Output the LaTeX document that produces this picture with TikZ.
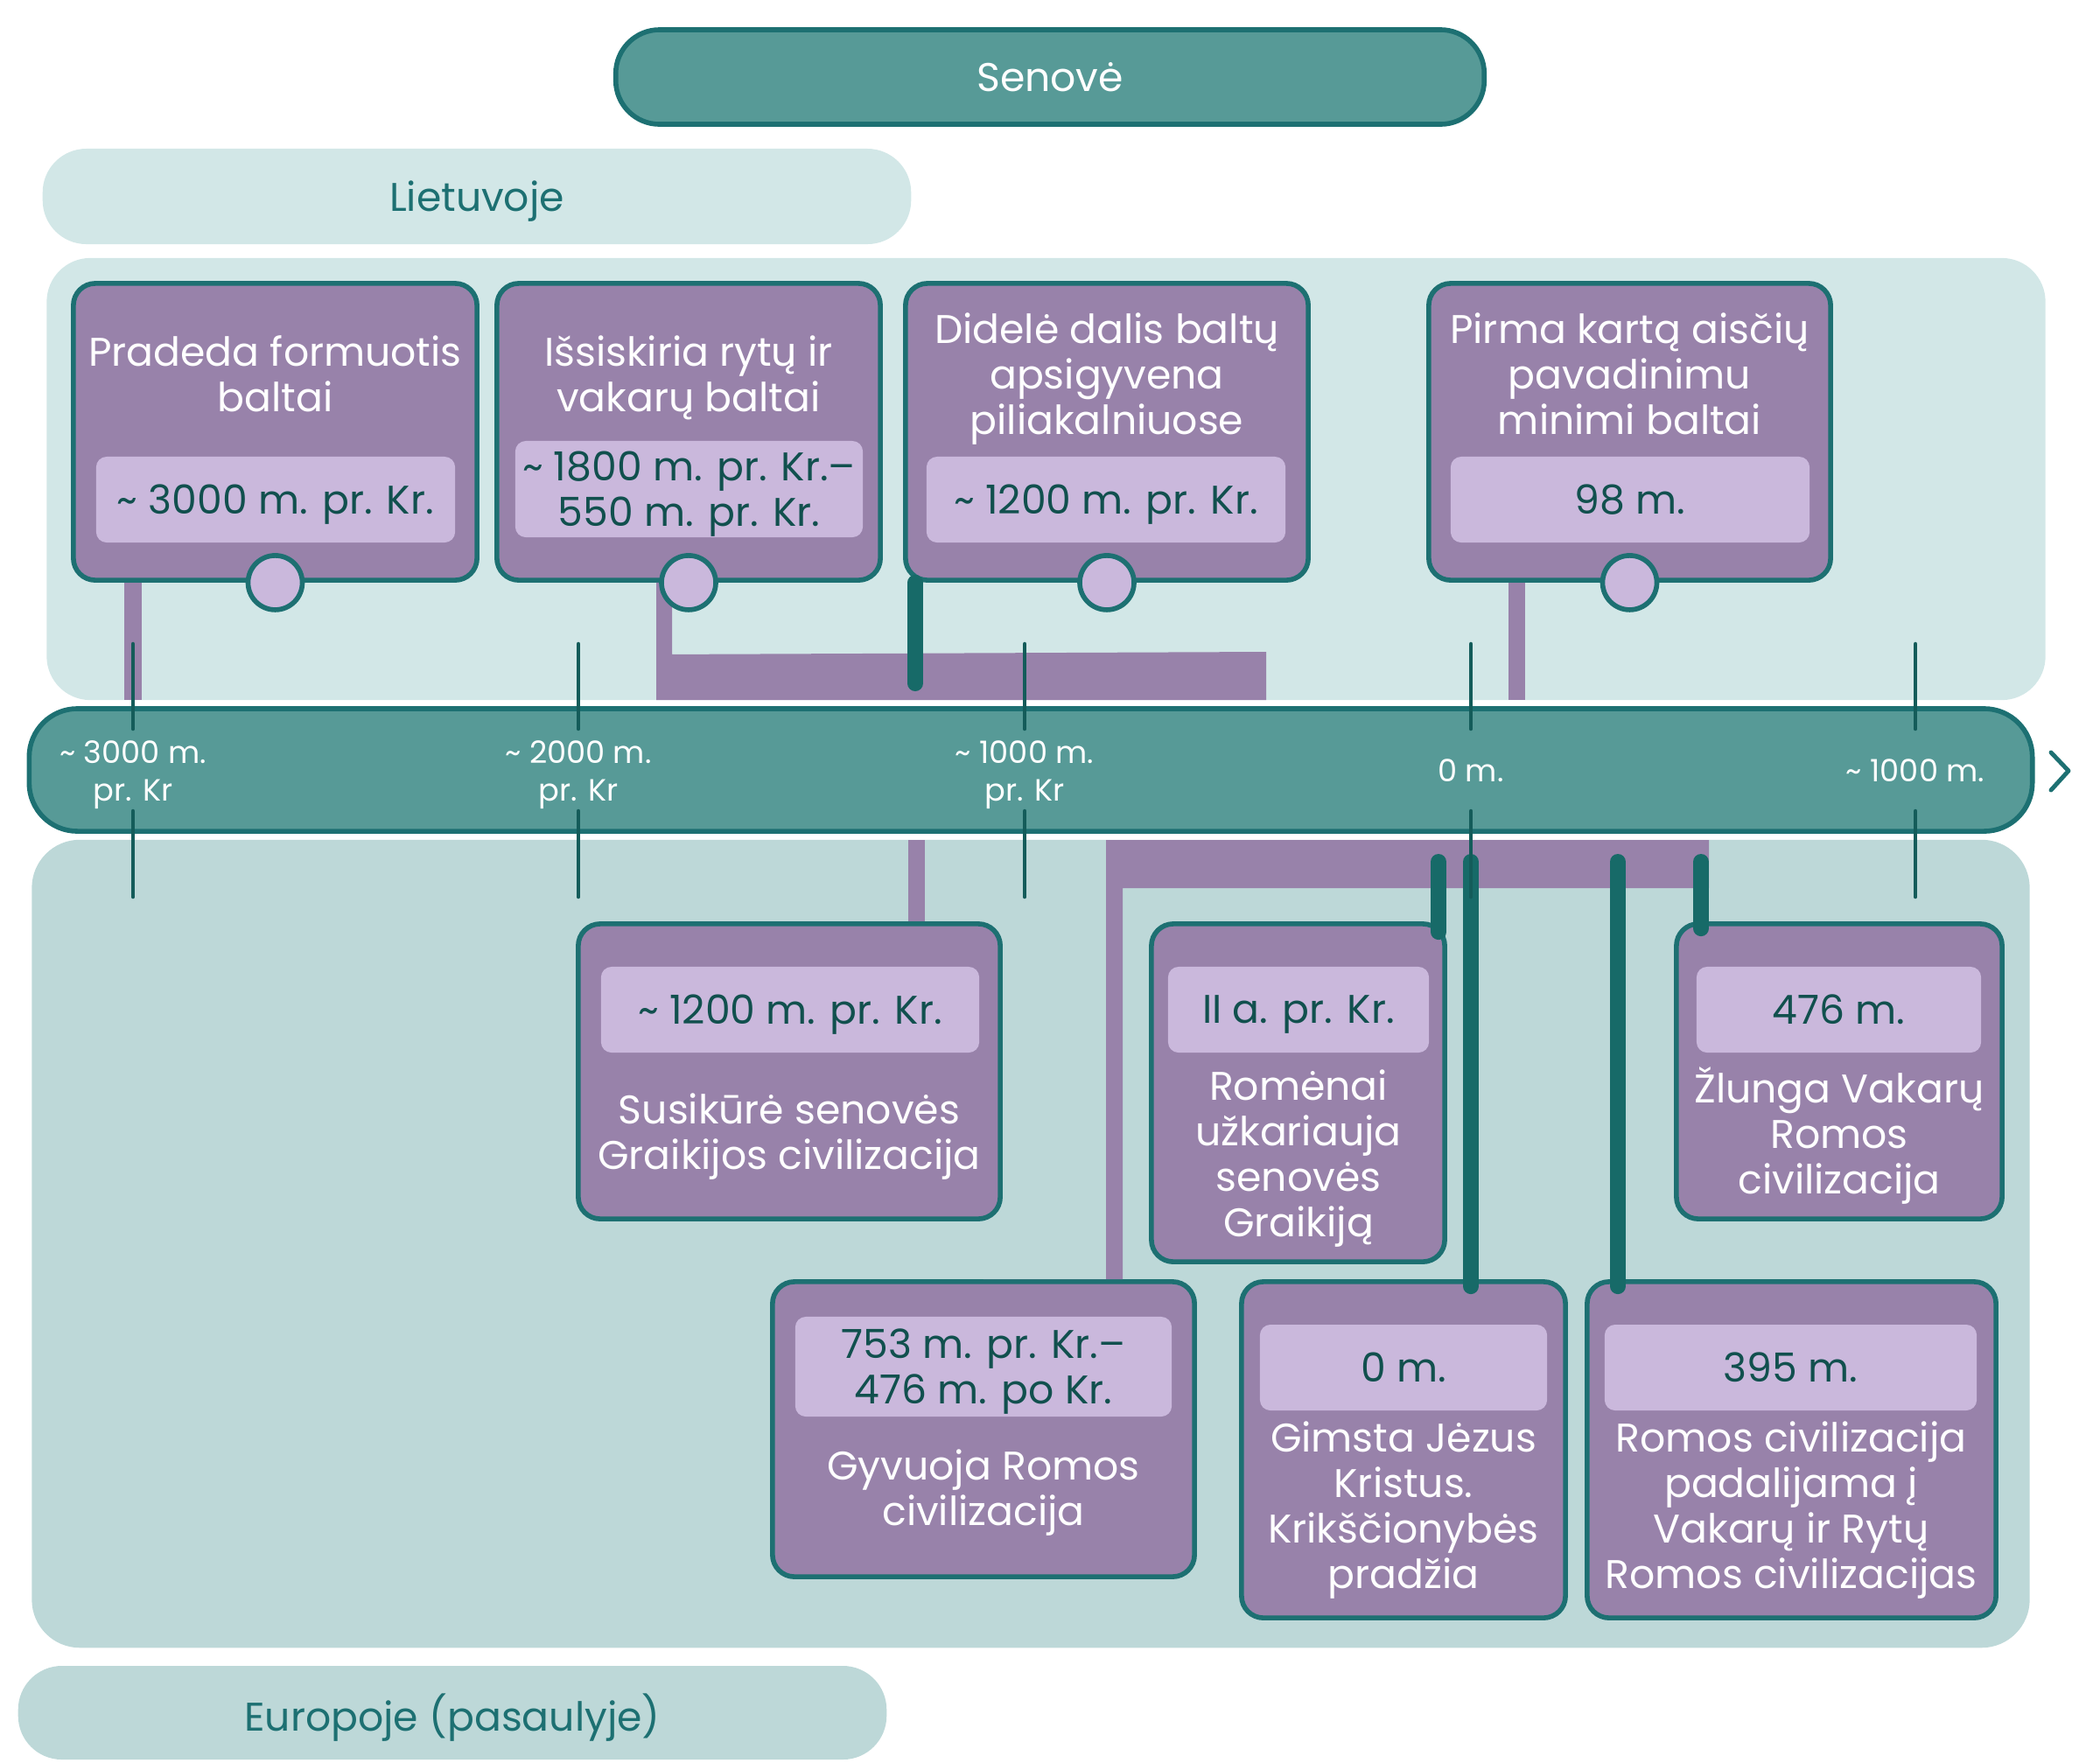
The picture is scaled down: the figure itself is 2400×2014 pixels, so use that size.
\documentclass[tikz,border=0pt]{standalone}
\usepackage{fontspec}
\setmainfont{Poppins}
\usepackage{xcolor}
\usepackage{tikz}
\usetikzlibrary{calc}

\definecolor{tealfill}{HTML}{579A97}
\definecolor{tealedge}{HTML}{1D7072}
\definecolor{tealdark}{HTML}{176A68}
\definecolor{ticktone}{HTML}{145C5A}
\definecolor{lithbg}{HTML}{D2E7E7}
\definecolor{eurobg}{HTML}{BDD8D8}
\definecolor{plum}{HTML}{9882AA}
\definecolor{lilac}{HTML}{CAB8DC}
\definecolor{dateink}{HTML}{11504E}

\begin{document}
\begin{tikzpicture}[x=0.01cm, y=-0.01cm, line width=1.6pt,
    band/.style={fill=#1, rounded corners=0.5cm, inner sep=0pt, text=tealedge, text depth=0pt,
                 font=\fontsize{13}{15}\selectfont},
    region/.style={fill=#1, rounded corners=0.5cm, inner sep=0pt},
    evbox/.style={draw=tealedge, fill=plum, rounded corners=0.25cm, inner sep=0pt},
    datebox/.style={fill=lilac, rounded corners=0.12cm, inner sep=0pt, text=dateink, text depth=0pt,
                    align=center, font=\fontsize{13}{14.8}\selectfont},
    ttl/.style={text=white, align=center, inner sep=0pt, text depth=0pt, font=\fontsize{13}{14.8}\selectfont},
    knob/.style={circle, draw=tealedge, fill=lilac, minimum size=0.62cm, inner sep=0pt},
    plink/.style={draw=plum, line width=0.19cm},
    tlink/.style={draw=tealdark, line width=0.18cm, line cap=round},
    tick/.style={draw=ticktone, line width=1.3pt, line cap=round},
    ticklbl/.style={text=white, align=center, inner sep=0pt, text depth=0pt, font=\fontsize{10}{12.2}\selectfont}]
    \useasboundingbox (0,0) rectangle (2400,2014);

    % draw header and row labels
    \node[band=tealfill, draw=tealedge, text=white, minimum width=9.92cm, minimum height=1.08cm] (senove) at (1200,88) {Senovė};
    \node[band=lithbg, minimum width=9.92cm, minimum height=1.09cm] (lietuva) at (545,224.5) {Lietuvoje};
    \node[band=eurobg, minimum width=9.92cm, minimum height=1.07cm] (europa) at (517,1957.5) {Europoje (pasaulyje)};

    % draw background regions
    \node[region=lithbg, minimum width=22.83cm, minimum height=5.05cm] (lith) at (1195.5,547.5) {};
    \node[region=eurobg, rounded corners=0.55cm, minimum width=22.82cm, minimum height=9.23cm] (euro) at (1178,1421.5) {};

    % draw time axis
    \node[draw=tealedge, fill=tealfill, rounded corners=0.55cm, minimum width=22.88cm, minimum height=1.40cm, inner sep=0pt] (axis) at (1178,880) {};
    \draw[tealedge, line width=1.4pt, line cap=round, line join=round] (2344,860) -- (2364,881) -- (2344,903);

    % draw event boxes in Lithuania
    \node[evbox, minimum width=4.61cm, minimum height=3.39cm] (lt1) at (314.5,493.5) {};
    \node[evbox, minimum width=4.38cm, minimum height=3.39cm] (lt2) at (787,493.5) {};
    \node[evbox, minimum width=4.60cm, minimum height=3.39cm] (lt3) at (1265,493.5) {};
    \node[evbox, minimum width=4.59cm, minimum height=3.39cm] (lt4) at (1862.5,493.5) {};

    % draw event boxes in Europe
    \node[evbox, minimum width=4.82cm, minimum height=3.37cm] (eu1) at (902,1224.5) {};
    \node[evbox, minimum width=4.82cm, minimum height=3.37cm] (eu2) at (1124,1633.5) {};
    \node[evbox, minimum width=3.35cm, minimum height=3.86cm] (eu3) at (1483.5,1249) {};
    \node[evbox, minimum width=3.70cm, minimum height=3.84cm] (eu4) at (1604,1657) {};
    \node[evbox, minimum width=3.72cm, minimum height=3.37cm] (eu5) at (2102,1224.5) {};
    \node[evbox, minimum width=4.67cm, minimum height=3.84cm] (eu6) at (2047.5,1657) {};

    % draw purple links (Lietuvoje)
    \coordinate (lfoot1) at (152,800);
    \coordinate (lfoot2) at (750,800);
    \coordinate (lend2)  at (1447,745);
    \coordinate (lfoot4) at (1733,800);
    \draw[plink] (lfoot1 |- lt1.south) -- (lfoot1);
    \draw[plink] (lfoot4 |- lt4.south) -- (lfoot4);
    \fill[plum] (lfoot2 |- lt2.south) -- ++(18,0) -- ++(0,82) -- (lend2)
                -- (lend2 |- lfoot2) -- (lfoot2) -- cycle;

    % draw purple links (Europoje)
    \coordinate (efoot1) at (1047,960);
    \coordinate (efoot2) at (1264,960);
    \coordinate (eend2)  at (1953,1015);
    \draw[plink] (efoot1) -- (efoot1 |- eu1.north);
    \fill[plum] (efoot2) -| (eend2) -- ++(-670,0) |- (eu2.north) -| cycle;

    % texts in Lithuania
    \node[ttl] (lt1t) at (314.5,427) {Pradeda formuotis\\baltai};
    \node[ttl] (lt2t) at (787,427) {Išsiskiria rytų ir\\vakarų baltai};
    \node[ttl] (lt3t) at (1265,427) {Didelė dalis baltų\\apsigyvena\\piliakalniuose};
    \node[ttl] (lt4t) at (1862.5,427) {Pirma kartą aisčių\\pavadinimu\\minimi baltai};

    \node[datebox, minimum width=4.10cm, minimum height=0.98cm] (ld1) at (315,571) {\textasciitilde{} 3000 m. pr. Kr.};
    \node[datebox, minimum width=3.97cm, minimum height=1.10cm] (ld2) at (787.5,559) {\textasciitilde{} 1800 m. pr. Kr.–\\550 m. pr. Kr.};
    \node[datebox, minimum width=4.10cm, minimum height=0.98cm] (ld3) at (1264,571) {\textasciitilde{} 1200 m. pr. Kr.};
    \node[datebox, minimum width=4.10cm, minimum height=0.98cm] (ld4) at (1863,571) {98 m.};

    \node[knob] (lk1) at (lt1.south) {};
    \node[knob] (lk2) at (lt2.south) {};
    \node[knob] (lk3) at (lt3.south) {};
    \node[knob] (lk4) at (lt4.south) {};

    % texts in Europe
    \node[datebox, minimum width=4.32cm, minimum height=0.98cm] (ed1) at (903,1154) {\textasciitilde{} 1200 m. pr. Kr.};
    \node[datebox, minimum width=4.30cm, minimum height=1.14cm] (ed2) at (1124,1562) {753 m. pr. Kr.–\\476 m. po Kr.};
    \node[datebox, minimum width=2.98cm, minimum height=0.98cm] (ed3) at (1484,1154) {II a. pr. Kr.};
    \node[datebox, minimum width=3.28cm, minimum height=0.98cm] (ed4) at (1604,1563) {0 m.};
    \node[datebox, minimum width=3.25cm, minimum height=0.98cm] (ed5) at (2101.5,1154) {476 m.};
    \node[datebox, minimum width=4.25cm, minimum height=0.98cm] (ed6) at (2046.5,1563) {395 m.};

    \node[ttl] (eu1t) at (902,1293) {Susikūrė senovės\\Graikijos civilizacija};
    \node[ttl] (eu2t) at (1124,1700) {Gyvuoja Romos\\civilizacija};
    \node[ttl] (eu3t) at (1484,1318) {Romėnai\\užkariauja\\senovės\\Graikiją};
    \node[ttl] (eu4t) at (1604,1720) {Gimsta Jėzus\\Kristus.\\Krikščionybės\\pradžia};
    \node[ttl] (eu5t) at (2102,1292) {Žlunga Vakarų\\Romos\\civilizacija};
    \node[ttl] (eu6t) at (2047,1720) {Romos civilizacija\\padalijama į\\Vakarų ir Rytų\\Romos civilizacijas};

    % draw teal links
    \coordinate (lfoot3) at (1046,781);
    \coordinate (etop3) at (1644,985);
    \coordinate (etop4) at (1681,985);
    \coordinate (etop5) at (1944,985);
    \coordinate (etop6) at (1849,985);
    \draw[tlink] (lfoot3 |- lt3.south) -- (lfoot3);
    \draw[tlink] (etop3) -- ($(etop3 |- eu3.north)+(0,12)$);
    \draw[tlink] (etop4) -- ($(etop4 |- eu4.north)+(0,8)$);
    \draw[tlink] (etop5) -- ($(etop5 |- eu5.north)+(0,8)$);
    \draw[tlink] (etop6) -- ($(etop6 |- eu6.north)+(0,8)$);

    % draw ticks
    \draw[tick] (152,736) -- (152,833);   \draw[tick] (152,927) -- (152,1025);
    \draw[tick] (661,736) -- (661,833);   \draw[tick] (661,927) -- (661,1025);
    \draw[tick] (1171,736) -- (1171,833); \draw[tick] (1171,927) -- (1171,1025);
    \draw[tick] (1681,736) -- (1681,833); \draw[tick] (1681,927) -- (1681,1025);
    \draw[tick] (2189,736) -- (2189,833); \draw[tick] (2189,927) -- (2189,1025);

    % draw tick labels
    \node[ticklbl] (y3000) at (152,881) {\textasciitilde{} 3000 m.\\pr. Kr};
    \node[ticklbl] (y2000) at (661,881) {\textasciitilde{} 2000 m.\\pr. Kr};
    \node[ticklbl] (y1000) at (1171,881) {\textasciitilde{} 1000 m.\\pr. Kr};
    \node[ticklbl] (y0) at (1681,881) {0 m.};
    \node[ticklbl] (y1000ad) at (2189,881) {\textasciitilde{} 1000 m.};

\end{tikzpicture}
\end{document}
